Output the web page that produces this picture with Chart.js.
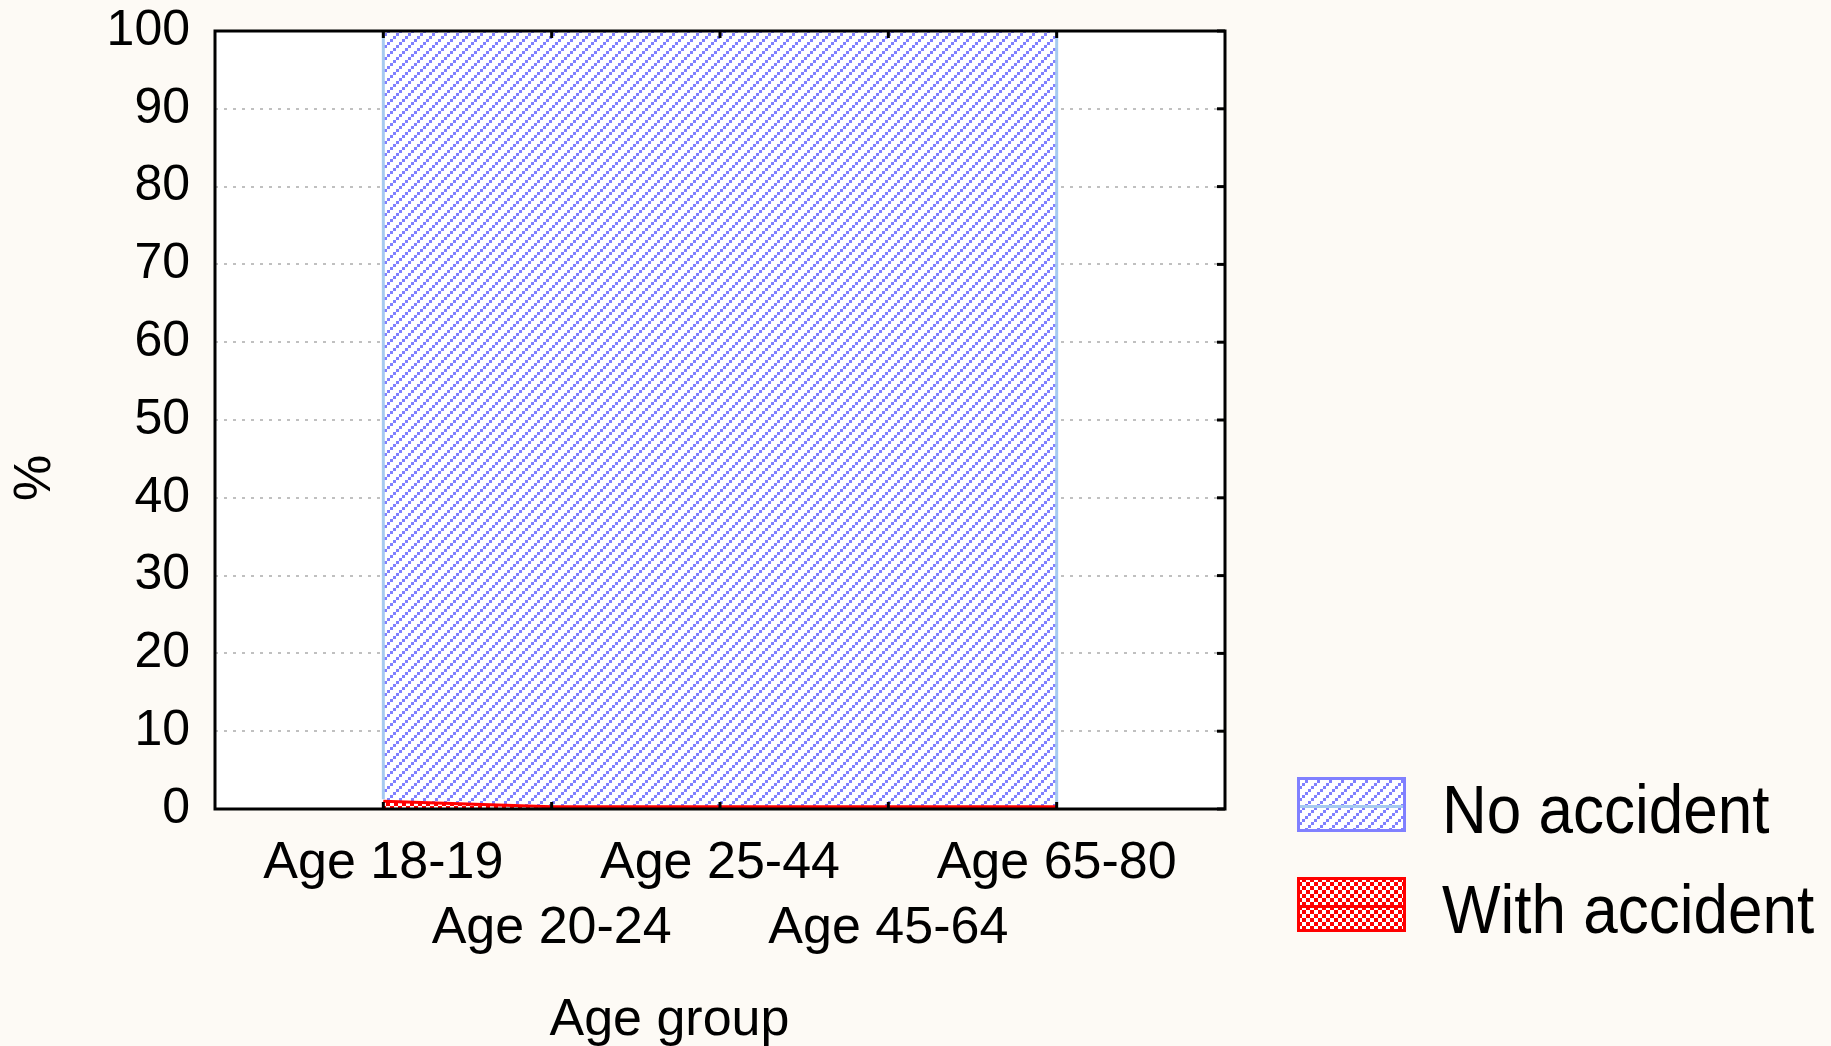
<!DOCTYPE html>
<html>
<head>
<meta charset="utf-8">
<title>Accidents by age group</title>
<script src="https://cdn.jsdelivr.net/npm/chart.js@4.4.1/dist/chart.umd.min.js"></script>
<style>
    html, body { margin: 0; padding: 0; background: #fdfaf5; }
    #wrap { width: 1831px; height: 1046px; position: relative; }
</style>
</head>
<body>
<div id="wrap"><canvas id="accidentChart"></canvas></div>
<script>
// Age groups, placed at x = 1..5 with an empty slot on either side
const ageGroups = ['Age 18-19', 'Age 20-24', 'Age 25-44', 'Age 45-64', 'Age 65-80'];
// Share of drivers in each group, %
const withAccident = [1.0, 0.3, 0.3, 0.3, 0.3];
const noAccident = [99.0, 99.7, 99.7, 99.7, 99.7];
const seriesNames = ['No accident', 'With accident'];

const FONT = "'Liberation Sans', Arial, sans-serif";

// small bitmap fills like the original hatching
function makePattern(size, color, cells) {
    const tile = document.createElement('canvas');
    tile.width = size;
    tile.height = size;
    const t = tile.getContext('2d');
    t.fillStyle = '#ffffff';
    t.fillRect(0, 0, size, size);
    t.fillStyle = color;
    cells.forEach(([x, y, s]) => t.fillRect(x, y, s, s));
    return t.createPattern(tile, 'repeat');
}

const bluePattern = makePattern(12, '#8080ff', [[9, 0, 3], [6, 3, 3], [3, 6, 3], [0, 9, 3]]);
const redPattern = makePattern(8, '#ff0000', [
    [0, 0, 2], [2, 2, 2], [4, 4, 2], [6, 6, 2],
    [6, 0, 2], [4, 2, 2], [2, 4, 2], [0, 6, 2]
]);

// white plot area, frame, inner tick marks and the side edges of the area
const plotFrame = {
    id: 'plotFrame',
    beforeDraw(chart) {
        const { ctx, chartArea: a } = chart;
        ctx.save();
        ctx.fillStyle = '#ffffff';
        ctx.fillRect(a.left, a.top, a.right - a.left, a.bottom - a.top);
        ctx.restore();
    },
    afterDatasetsDraw(chart) {
        const { ctx, chartArea: a, scales: { x, y } } = chart;
        ctx.save();
        ctx.strokeStyle = '#a6caf0';
        ctx.lineWidth = 3;
        [0, ageGroups.length - 1].forEach(i => {
            const px = x.getPixelForValue(i + 1);
            ctx.beginPath();
            ctx.moveTo(px, y.getPixelForValue(withAccident[i]) - 2);
            ctx.lineTo(px, y.getPixelForValue(100));
            ctx.stroke();
        });

        ctx.strokeStyle = '#000000';
        ctx.lineWidth = 3;
        ageGroups.forEach((g, i) => {
            const px = x.getPixelForValue(i + 1);
            ctx.beginPath();
            ctx.moveTo(px, a.top);
            ctx.lineTo(px, a.top + 7);
            ctx.moveTo(px, a.bottom);
            ctx.lineTo(px, a.bottom - 7);
            ctx.stroke();
        });
        y.ticks.forEach(t => {
            const py = y.getPixelForValue(t.value);
            ctx.beginPath();
            ctx.moveTo(a.right - 8, py);
            ctx.lineTo(a.right, py);
            ctx.stroke();
        });
        ctx.strokeRect(a.left, a.top, a.right - a.left, a.bottom - a.top);
        ctx.restore();
    }
};

// legend at the lower right, drawn by hand to match the boxed swatches
const sideLegend = {
    id: 'sideLegend',
    afterDraw(chart) {
        const ctx = chart.ctx;
        const items = [
            { text: seriesNames[0], fill: bluePattern, edge: '#8080ff', mid: '#a6caf0', top: 777 },
            { text: seriesNames[1], fill: redPattern, edge: '#ff0000', mid: '#ff0000', top: 877 }
        ];
        ctx.save();
        items.forEach(it => {
            ctx.fillStyle = it.fill;
            ctx.fillRect(1297, it.top, 109, 55);
            ctx.strokeStyle = it.mid;
            ctx.lineWidth = 3;
            ctx.beginPath();
            ctx.moveTo(1298, it.top + 29.5);
            ctx.lineTo(1405, it.top + 29.5);
            ctx.stroke();
            ctx.strokeStyle = it.edge;
            ctx.strokeRect(1298.5, it.top + 1.5, 106, 52);

            ctx.save();
            ctx.translate(1442, it.top + 56);
            ctx.scale(1, 1.1);
            ctx.fillStyle = '#000000';
            ctx.font = '62px ' + FONT;
            ctx.textBaseline = 'alphabetic';
            ctx.fillText(it.text, 0, 0);
            ctx.restore();
        });
        ctx.restore();
    }
};

function buildChart() {
    const ctx = document.getElementById('accidentChart').getContext('2d');
    new Chart(ctx, {
        type: 'line',
        data: {
            datasets: [{
                label: seriesNames[1],
                data: withAccident.map((v, i) => ({ x: i + 1, y: v })),
                borderColor: '#ff0000',
                borderWidth: 3,
                backgroundColor: redPattern,
                fill: 'origin',
                pointRadius: 0,
                tension: 0
            }, {
                label: seriesNames[0],
                data: noAccident.map((v, i) => ({ x: i + 1, y: v })),
                borderColor: '#a6caf0',
                borderWidth: 2,
                backgroundColor: bluePattern,
                fill: '-1',
                pointRadius: 0,
                tension: 0
            }]
        },
        options: {
            responsive: true,
            maintainAspectRatio: false,
            animation: false,
            events: [],
            layout: {
                padding: { left: 4, right: 606, top: 31, bottom: 0 }
            },
            plugins: {
                legend: { display: false },
                tooltip: { enabled: false }
            },
            scales: {
                x: {
                    type: 'linear',
                    min: 0,
                    max: ageGroups.length + 1,
                    grid: { display: false },
                    border: { display: false },
                    afterFit: s => {
                        s.height = 237;
                        s.paddingLeft = 0;
                        s.paddingRight = 0;
                    },
                    ticks: {
                        stepSize: 1,
                        autoSkip: false,
                        maxRotation: 0,
                        padding: 14,
                        color: '#000000',
                        font: { family: FONT, size: 52, lineHeight: 1.25 },
                        // every second group goes on a lower row
                        callback: value => {
                            const label = ageGroups[value - 1];
                            if (!label) return '';
                            return value % 2 === 0 ? ['', label] : label;
                        }
                    },
                    title: {
                        display: true,
                        text: 'Age group       ',
                        color: '#000000',
                        padding: { top: 0, bottom: -6 },
                        font: { family: FONT, size: 52 }
                    }
                },
                y: {
                    stacked: true,
                    min: 0,
                    max: 100,
                    afterFit: s => {
                        s.width = 211;
                        s.paddingTop = 0;
                        s.paddingBottom = 0;
                    },
                    grid: {
                        color: '#c0c0c0',
                        lineWidth: 2,
                        drawTicks: false
                    },
                    border: { display: false, dash: [3, 6] },
                    ticks: {
                        stepSize: 10,
                        padding: 25,
                        color: '#000000',
                        font: { family: FONT, size: 50 }
                    },
                    title: {
                        display: true,
                        text: '%        ',
                        color: '#000000',
                        padding: 0,
                        font: { family: FONT, size: 52 }
                    }
                }
            }
        },
        plugins: [plotFrame, sideLegend]
    });
}

document.addEventListener('DOMContentLoaded', buildChart);
</script>
</body>
</html>
